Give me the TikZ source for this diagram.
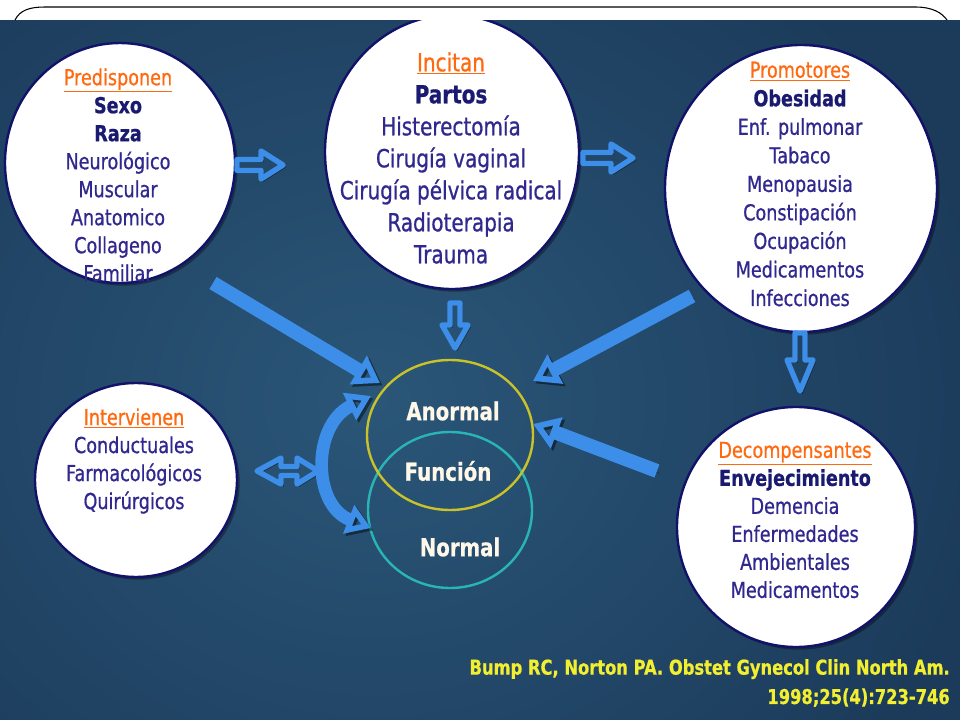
\documentclass[tikz,border=0pt]{standalone}
\usepackage{fontspec}
\setmainfont{DejaVu Sans}
\newfontfamily\cfont[FakeStretch=0.8,FakeBold=0.7]{DejaVu Sans}
\usetikzlibrary{arrows.meta,shapes.geometric}
\definecolor{bgin}{HTML}{2A5678}
\definecolor{bgout}{HTML}{1C3B5B}
\definecolor{arrowblue}{HTML}{3D8EE8}
\definecolor{navytxt}{HTML}{1A1A70}
\definecolor{violtxt}{HTML}{30288F}
\definecolor{ttlorange}{HTML}{FF6A10}
\definecolor{circedge}{HTML}{12126A}
\definecolor{vennyellow}{HTML}{C9C22A}
\definecolor{venncyan}{HTML}{2AB5B5}
\definecolor{venntxt}{HTML}{FFF8E8}
\definecolor{citeyellow}{HTML}{F2EE30}
\tikzset{
  shadowdraw/.style={preaction={draw=black,opacity=.45,transform canvas={shift={(1.8pt,-1.8pt)}}}},
  bubble/.style={ellipse,draw=circedge,line width=1.8pt,fill=white,inner sep=0pt,
    preaction={fill=black,opacity=.35,transform canvas={shift={(2pt,-2pt)}}}},
  venn/.style={ellipse,draw,line width=1.8pt,inner sep=0pt},
  thickarr/.style={draw=arrowblue,line width=10.5pt,shadowdraw,
    -{Triangle[open,length=19pt,width=24pt,line width=4.4pt]}},
  curvearr/.style={draw=arrowblue,line width=9.5pt,shadowdraw,
    {Triangle[open,length=18pt,width=22pt,line width=4.2pt]}-{Triangle[open,length=18pt,width=22pt,line width=4.2pt]}},
  hollowarr/.style={draw=arrowblue,line width=4pt,line join=round,shadowdraw},
  listtxt/.style={align=center,inner sep=0pt,text=violtxt,font=\cfont\fontsize{16.5pt}{21pt}\selectfont},
  bigtxt/.style={align=center,inner sep=0pt,text=violtxt,font=\cfont\fontsize{18.75pt}{24pt}\selectfont},
  venntext/.style={inner sep=0pt,text=venntxt,font=\cfont\bfseries\fontsize{18.5pt}{22pt}\selectfont},
  citetxt/.style={align=right,inner sep=0pt,text=citeyellow,font=\cfont\bfseries\fontsize{15.3pt}{22pt}\selectfont}
}
\newcommand\ttl[1]{{\color{ttlorange}\underline{#1}}}
\newcommand\bld[1]{{\color{navytxt}\bfseries #1}}
\begin{document}
\begin{tikzpicture}[x=0.75pt,y=-0.75pt]
\useasboundingbox (0,0) rectangle (960,720);
% background
\fill[bgout] (0,20) rectangle (960,720);
\shade[inner color=bgin,outer color=bgout] (-250,-150) rectangle (1000,950);
% circles
\node[bubble,minimum width=172.5pt,minimum height=180pt] (pred) at (120,163) {};
\node[bubble,minimum width=190.5pt,minimum height=205.5pt] (inc) at (452,152) {};
\node[bubble,minimum width=204pt,minimum height=215.25pt] (prom) at (801,188.5) {};
\node[bubble,minimum width=151.5pt,minimum height=145.5pt] (interv) at (136,480) {};
\node[bubble,minimum width=178.5pt,minimum height=180pt] (decomp) at (796,527) {};
% venn
\node[venn,draw=venncyan,minimum width=123pt,minimum height=117pt] (normc) at (450,510) {};
\node[venn,draw=vennyellow,minimum width=124.5pt,minimum height=112.5pt] (anorc) at (450,435) {};
% texts
\node[listtxt] (predtxt) at (118,175) {\ttl{Predisponen}\\ \bld{Sexo}\\ \bld{Raza}\\ Neurológico\\ Muscular\\ Anatomico\\ Collageno\\ Familiar};
\node[bigtxt] (inctxt) at (451,158) {\ttl{Incitan}\\ \bld{Partos}\\ Histerectomía\\ Cirugía vaginal\\ Cirugía pélvica radical\\ Radioterapia\\ Trauma};
\node[listtxt,font=\cfont\fontsize{16.5pt}{21.4pt}\selectfont] (promtxt) at (800,184) {\ttl{Promotores}\\ \bld{Obesidad}\\ Enf. pulmonar\\ Tabaco\\ Menopausia\\ Constipación\\ Ocupación\\ Medicamentos\\ Infecciones};
\node[listtxt] (intervtxt) at (134,461) {\ttl{Intervienen}\\ Conductuales\\ Farmacológicos\\ Quirúrgicos};
\node[listtxt] (decomptxt) at (795,520) {\ttl{Decompensantes}\\ \bld{Envejecimiento}\\ Demencia\\ Enfermedades\\ Ambientales\\ Medicamentos};
\node[venntext] (anormal) at (453,411) {Anormal};
\node[venntext] (funcion) at (448,471) {Función};
\node[venntext] (normal) at (460,547) {Normal};
% arrow anchor coordinates
\coordinate (a1) at (237,165);
\coordinate (a2) at (583,158);
\coordinate (a3) at (455,303);
\coordinate (a4) at (800,333);
\coordinate (a5) at (257,471);
\coordinate (t1s) at (213,283); \coordinate (t1e) at (380,383);
\coordinate (t2s) at (692,296); \coordinate (t2e) at (533,381);
\coordinate (t3s) at (657,471); \coordinate (t3e) at (533,424);
\coordinate (ct) at (371,396); \coordinate (cb) at (371,528);
% hollow double-line arrows
\draw[hollowarr] (a1) ++(0,-5.5) -- ++(24,0) -- ++(0,-8.5) -- ++(22,14) -- ++(-22,14) -- ++(0,-8.5) -- ++(-24,0) -- cycle;
\draw[hollowarr] (a2) ++(0,-5.5) -- ++(28,0) -- ++(0,-8.5) -- ++(22,14) -- ++(-22,14) -- ++(0,-8.5) -- ++(-28,0) -- cycle;
\draw[hollowarr] (a3) ++(-5,0) -- ++(0,22) -- ++(-8,0) -- ++(13,23) -- ++(13,-23) -- ++(-8,0) -- ++(0,-22) -- cycle;
\draw[hollowarr] (a4) ++(-5,0) -- ++(0,27) -- ++(-8,0) -- ++(13,31) -- ++(13,-31) -- ++(-8,0) -- ++(0,-27) -- cycle;
\draw[hollowarr] (a5) -- ++(24,-13) -- ++(0,8.5) -- ++(16,0) -- ++(0,-8.5) -- ++(21,13) -- ++(-21,13) -- ++(0,-8.5) -- ++(-16,0) -- ++(0,8.5) -- cycle;
% thick arrows
\draw[thickarr] (t1s) -- (t1e);
\draw[thickarr] (t2s) -- (t2e);
\draw[thickarr] (t3s) -- (t3e);
\draw[curvearr] (ct) .. controls (312,425) and (312,505) .. (cb);
% citation
\node[citetxt,anchor=east] (cite) at (950,683) {Bump RC, Norton PA. Obstet Gynecol Clin North Am.\\ 1998;25(4):723-746};
% top band
\fill[white] (0,0) rectangle (960,20);
\draw[line width=0.8pt] (15,20) .. controls (20,10) and (30,7) .. (45,7) -- (915,7) .. controls (933,7) and (942,13) .. (947,20);
\end{tikzpicture}
\end{document}
